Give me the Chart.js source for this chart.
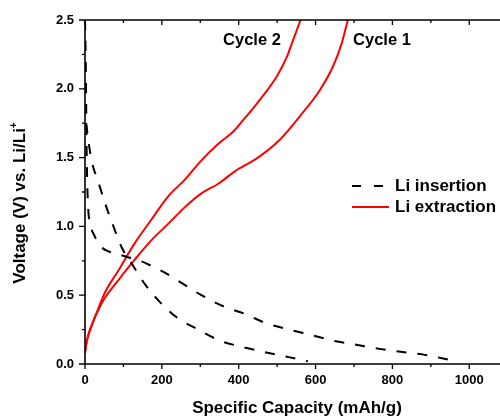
<!DOCTYPE html>
<html>
<head>
<meta charset="utf-8">
<script src="https://cdn.jsdelivr.net/npm/chart.js@4.4.1/dist/chart.umd.min.js"></script>
<style>
  html, body { margin: 0; padding: 0; background: #fff; }
  #wrap { width: 500px; height: 417px; }
</style>
</head>
<body>
<div id="wrap"><canvas id="capChart" width="500" height="417"></canvas></div>
<script>
// capacity (mAh/g) and voltage (V)
const cap1Insert  = [0, 2, 3, 4, 6, 9, 13, 25, 39, 60, 95, 120, 152, 175, 204, 251, 303, 360, 420, 468, 532, 590, 645, 706, 766, 818, 878, 950];
const volt1Insert = [2.5, 2.2, 1.9, 1.6, 1.3, 1.1, 1.02, 0.93, 0.86, 0.82, 0.79, 0.77, 0.74, 0.71, 0.67, 0.59, 0.50, 0.42, 0.36, 0.30, 0.25, 0.21, 0.17, 0.14, 0.11, 0.09, 0.07, 0.03];

const cap2Insert  = [3, 8, 17, 35, 52, 74, 95, 126, 156, 195, 243, 295, 351, 400, 462, 530, 580];
const volt2Insert = [1.75, 1.64, 1.48, 1.32, 1.17, 1.00, 0.85, 0.71, 0.58, 0.45, 0.33, 0.25, 0.17, 0.13, 0.09, 0.05, 0.02];

const cap1Extract  = [0, 4, 13, 43, 87, 130, 173, 217, 260, 303, 347, 390, 450, 507, 559, 611, 645, 668, 684];
const volt1Extract = [0.08, 0.16, 0.25, 0.44, 0.61, 0.76, 0.90, 1.02, 1.14, 1.24, 1.31, 1.40, 1.50, 1.63, 1.80, 1.99, 2.16, 2.33, 2.5];

const cap2Extract  = [0, 3, 10, 26, 52, 87, 130, 173, 217, 260, 303, 347, 386, 411, 455, 499, 525, 541, 561];
const volt2Extract = [0.08, 0.14, 0.22, 0.34, 0.52, 0.68, 0.88, 1.05, 1.22, 1.34, 1.48, 1.60, 1.69, 1.77, 1.92, 2.09, 2.23, 2.35, 2.5];

const xTicks = [0, 200, 400, 600, 800, 1000];
const yTicks = [0, 0.5, 1.0, 1.5, 2.0, 2.5];
const xMinor = [100, 300, 500, 700, 900];
const yMinor = [0.25, 0.75, 1.25, 1.75, 2.25];

const toPoints = (xs, ys) => xs.map((x, i) => ({ x: x, y: ys[i] }));

const boldFont = (size) => 'bold ' + size + 'px "Liberation Sans", Arial, sans-serif';

const frame = {
  id: 'frame',
  afterDraw(chart) {
    const ctx = chart.ctx;
    const a = chart.chartArea;
    const xs = chart.scales.x, ys = chart.scales.y;
    ctx.save();
    ctx.strokeStyle = '#000';
    ctx.lineWidth = 1.6;
    ctx.beginPath();
    ctx.moveTo(a.left, a.top); ctx.lineTo(a.right, a.top);
    ctx.moveTo(a.left, a.bottom); ctx.lineTo(a.right, a.bottom);
    ctx.moveTo(a.left, a.top); ctx.lineTo(a.left, a.bottom);
    ctx.stroke();

    ctx.lineWidth = 1.3;
    ctx.beginPath();
    xTicks.forEach(v => {
      const p = xs.getPixelForValue(v);
      ctx.moveTo(p, a.bottom); ctx.lineTo(p, a.bottom + 5);
      ctx.moveTo(p, a.top); ctx.lineTo(p, a.top + 5);
    });
    xMinor.forEach(v => {
      const p = xs.getPixelForValue(v);
      ctx.moveTo(p, a.bottom); ctx.lineTo(p, a.bottom + 3);
      ctx.moveTo(p, a.top); ctx.lineTo(p, a.top + 3);
    });
    yTicks.forEach(v => {
      const p = ys.getPixelForValue(v);
      ctx.moveTo(a.left, p); ctx.lineTo(a.left - 6, p);
    });
    yMinor.forEach(v => {
      const p = ys.getPixelForValue(v);
      ctx.moveTo(a.left, p); ctx.lineTo(a.left - 3, p);
    });
    ctx.stroke();

    // axis titles
    ctx.fillStyle = '#000';
    ctx.font = boldFont(17);
    ctx.textAlign = 'center';
    ctx.textBaseline = 'middle';
    ctx.fillText('Specific Capacity (mAh/g)', 297, 408);

    ctx.save();
    ctx.translate(20, 203);
    ctx.rotate(-Math.PI / 2);
    const main = 'Voltage (V) vs. Li/Li';
    const w = ctx.measureText(main).width;
    ctx.font = boldFont(10);
    const sw = ctx.measureText('+').width;
    const start = -(w + sw) / 2;
    ctx.font = boldFont(17);
    ctx.textAlign = 'left';
    ctx.fillText(main, start, 0);
    ctx.font = boldFont(10);
    ctx.fillText('+', start + w, -6);
    ctx.restore();

    // curve labels
    ctx.font = boldFont(16.5);
    ctx.textAlign = 'center';
    ctx.fillText('Cycle 2', 252, 40);
    ctx.fillText('Cycle 1', 382, 40);

    // legend
    ctx.lineWidth = 2;
    ctx.strokeStyle = '#000';
    ctx.setLineDash([9, 13]);
    ctx.beginPath(); ctx.moveTo(352, 186); ctx.lineTo(384, 186); ctx.stroke();
    ctx.setLineDash([]);
    ctx.strokeStyle = '#ff0000';
    ctx.beginPath(); ctx.moveTo(352, 207); ctx.lineTo(389, 207); ctx.stroke();
    ctx.font = boldFont(17);
    ctx.textAlign = 'left';
    ctx.fillText('Li insertion', 395, 186);
    ctx.fillText('Li extraction', 395, 207);
    ctx.restore();
  }
};

const dashed = { borderColor: '#000', borderWidth: 2, borderDash: [10, 11] };
const solid = { borderColor: '#ff0000', borderWidth: 2 };

const ctx = document.getElementById('capChart').getContext('2d');
new Chart(ctx, {
  type: 'scatter',
  data: {
    datasets: [
      Object.assign({ label: 'Cycle 1 insertion', data: toPoints(cap1Insert, volt1Insert) }, dashed),
      Object.assign({ label: 'Cycle 2 insertion', data: toPoints(cap2Insert, volt2Insert) }, dashed),
      Object.assign({ label: 'Cycle 1 extraction', data: toPoints(cap1Extract, volt1Extract) }, solid),
      Object.assign({ label: 'Cycle 2 extraction', data: toPoints(cap2Extract, volt2Extract) }, solid)
    ]
  },
  options: {
    responsive: false,
    animation: false,
    showLine: true,
    elements: { point: { radius: 0 }, line: { cubicInterpolationMode: 'monotone' } },
    layout: { padding: { top: 20, right: 0, left: 0, bottom: 0 } },
    plugins: { legend: { display: false }, tooltip: { enabled: false } },
    scales: {
      x: {
        type: 'linear', min: 0, max: 1080,
        afterBuildTicks: s => { s.ticks = xTicks.map(v => ({ value: v })); },
        afterFit: s => { s.height = 53; },
        grid: { display: false, drawTicks: false },
        border: { display: false },
        ticks: { color: '#000', font: { family: '"Liberation Sans", Arial, sans-serif', size: 13, weight: 'bold' }, padding: 9, maxRotation: 0, callback: v => String(v) }
      },
      y: {
        type: 'linear', min: 0, max: 2.5,
        afterBuildTicks: s => { s.ticks = yTicks.map(v => ({ value: v })); },
        afterFit: s => { s.width = 85; },
        grid: { display: false, drawTicks: false },
        border: { display: false },
        ticks: { color: '#000', font: { family: '"Liberation Sans", Arial, sans-serif', size: 13, weight: 'bold' }, padding: 11, callback: v => v.toFixed(1) }
      }
    }
  },
  plugins: [frame]
});
</script>
</body>
</html>
